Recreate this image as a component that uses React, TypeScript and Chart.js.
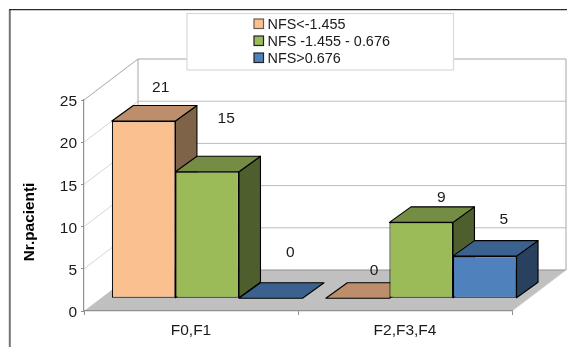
import React, { useEffect, useRef } from "react";
import { Chart, registerables } from "chart.js";

Chart.register(...registerables);

const categories = ["F0,F1", "F2,F3,F4"];
const seriesNames = ["NFS<-1.455", "NFS -1.455 - 0.676", "NFS>0.676"];
const lowValues = [21, 0];
const midValues = [15, 9];
const highValues = [0, 5];
const axisTitle = "Nr.pacienți";

// front, top and side shades of each prism
const frontColors = ["#FAC090", "#9BBB59", "#4F81BD"];
const topColors = ["#BC8E6B", "#748C43", "#3B618E"];
const sideColors = ["#7F6348", "#4E5E2D", "#28415F"];

const FONT = '"Liberation Sans", Arial, sans-serif';
const TEXT = "#1a1a1a";

// depth of the whole box, and of the bars standing inside it
const WALL_DX = 54;
const WALL_DY = -41;
const BAR_SHIFT_X = 16.2;
const BAR_SHIFT_Y = -12.7;
const BAR_DX = 21.5;
const BAR_DY = -15.5;

// hand-placed lift of each value label above its bar, per series and category
const labelLift = [
  [33, 28],
  [53, 25],
  [46, 36],
];
const labelNudge = [
  [17, 16.5],
  [19, 20],
  [19.5, 19],
];

function polygon(ctx: CanvasRenderingContext2D, pts: number[][], fill?: string, stroke?: string, lw = 1.1) {
  ctx.beginPath();
  pts.forEach(([x, y], i) => (i ? ctx.lineTo(x, y) : ctx.moveTo(x, y)));
  ctx.closePath();
  if (fill) {
    ctx.fillStyle = fill;
    ctx.fill();
  }
  if (stroke) {
    ctx.strokeStyle = stroke;
    ctx.lineWidth = lw;
    ctx.lineJoin = "round";
    ctx.stroke();
  }
}

function line(ctx: CanvasRenderingContext2D, pts: number[][], color: string, lw = 1) {
  ctx.beginPath();
  pts.forEach(([x, y], i) => (i ? ctx.lineTo(x, y) : ctx.moveTo(x, y)));
  ctx.strokeStyle = color;
  ctx.lineWidth = lw;
  ctx.stroke();
}

const box3d = {
  id: "box3d",
  // outer frame, floor, walls and gridlines
  beforeDraw(chart: any) {
    const { ctx, chartArea: a, scales } = chart;
    const yScale = scales.y;
    ctx.save();
    line(ctx, [[9.8, 10], [9.8, 347]], "#747474", 2);
    line(ctx, [[9, 9.6], [567, 9.6]], "#2a2a2a", 1.3);

    const b = a.bottom;
    polygon(ctx, [
      [a.left, b],
      [a.right, b],
      [a.right + WALL_DX, b + WALL_DY],
      [a.left + WALL_DX, b + WALL_DY],
    ], "#C0C0C0");

    yScale.ticks.forEach((t: any) => {
      const y = yScale.getPixelForValue(t.value);
      if (t.value === 0) return;
      const isTop = y === a.top;
      line(ctx, [[a.left, y], [a.left + WALL_DX, y + WALL_DY]], isTop ? "#A6A6A6" : "#D6D6D6");
      line(ctx, [[a.left + WALL_DX, y + WALL_DY], [a.right + WALL_DX, y + WALL_DY]], isTop ? "#A6A6A6" : "#BDBDBD");
    });
    line(ctx, [[a.left + WALL_DX, a.top + WALL_DY], [a.left + WALL_DX, b + WALL_DY]], "#A6A6A6");
    line(ctx, [[a.right + WALL_DX, a.top + WALL_DY], [a.right + WALL_DX, b + WALL_DY]], "#A6A6A6");
    line(ctx, [[a.left + WALL_DX, b + WALL_DY], [a.right + WALL_DX, b + WALL_DY]], "#909090");
    line(ctx, [[a.right, b], [a.right + WALL_DX, b + WALL_DY]], "#D0D0D0");
    ctx.restore();
  },
  // bars go left to right so each one overlaps the side of its neighbour
  beforeDatasetsDraw(chart: any) {
    const { ctx, data } = chart;
    ctx.save();
    data.labels.forEach((_: string, c: number) => {
      data.datasets.forEach((_d: any, s: number) => {
        const bar = chart.getDatasetMeta(s).data[c];
        const hw = bar.width / 2;
        const l = bar.x - hw + BAR_SHIFT_X;
        const r = bar.x + hw + BAR_SHIFT_X;
        const t = bar.y + BAR_SHIFT_Y;
        const bt = bar.base + BAR_SHIFT_Y;
        if (bt - t > 0) {
          polygon(ctx, [[r, t], [r + BAR_DX, t + BAR_DY], [r + BAR_DX, bt + BAR_DY], [r, bt]], sideColors[s], "#000");
        }
        polygon(ctx, [[l, t], [r, t], [r + BAR_DX, t + BAR_DY], [l + BAR_DX, t + BAR_DY]], topColors[s], "#000");
        ctx.save();
        ctx.translate(BAR_SHIFT_X, BAR_SHIFT_Y);
        bar.draw(ctx);
        ctx.restore();
      });
    });
    ctx.restore();
  },
  // the library's own pass would paint the bars again, unshifted
  beforeDatasetDraw() {
    return false;
  },
  afterDatasetsDraw(chart: any) {
    const { ctx, data } = chart;
    ctx.save();
    ctx.textAlign = "center";
    ctx.textBaseline = "middle";
    ctx.fillStyle = TEXT;
    ctx.font = `15.5px ${FONT}`;
    data.datasets.forEach((d: any, s: number) => {
      d.data.forEach((v: number, c: number) => {
        const bar = chart.getDatasetMeta(s).data[c];
        ctx.fillText(String(v), bar.x + BAR_SHIFT_X + labelNudge[s][c], bar.y + BAR_SHIFT_Y - labelLift[s][c]);
      });
    });

    // axis title sits below the middle of the value axis
    ctx.save();
    ctx.translate(29.5, 222);
    ctx.rotate(-Math.PI / 2);
    ctx.font = `bold 15.4px ${FONT}`;
    ctx.fillStyle = "#000";
    ctx.fillText(axisTitle, 0, 0);
    ctx.restore();

    // legend panel
    ctx.fillStyle = "#fff";
    ctx.fillRect(187, 13.5, 266.5, 56.5);
    ctx.strokeStyle = "#D9D9D9";
    ctx.lineWidth = 1.2;
    ctx.strokeRect(187, 13.5, 266.5, 56.5);
    ctx.textAlign = "left";
    ctx.font = `14.4px ${FONT}`;
    seriesNames.forEach((name, i) => {
      const y = 24 + i * 17;
      ctx.fillStyle = frontColors[i];
      ctx.fillRect(254, y - 5, 9.5, 9.5);
      ctx.strokeStyle = i === 0 ? "#6b5a4d" : "#222";
      ctx.lineWidth = 1.2;
      ctx.strokeRect(254, y - 5, 9.5, 9.5);
      ctx.fillStyle = TEXT;
      ctx.fillText(name, 267.5, y + 1);
    });
    ctx.restore();
  },
};

export default function App() {
  const ref = useRef<HTMLCanvasElement | null>(null);

  useEffect(() => {
    const values = [lowValues, midValues, highValues];
    const chart = new Chart(ref.current as HTMLCanvasElement, {
      type: "bar",
      data: {
        labels: categories,
        datasets: seriesNames.map((label, i) => ({
          label,
          data: values[i],
          backgroundColor: frontColors[i],
          borderColor: "#000",
          borderWidth: 1.1,
          borderSkipped: false,
          categoryPercentage: 0.891,
          barPercentage: 1,
        })),
      },
      options: {
        responsive: false,
        animation: false,
        layout: {
          autoPadding: false,
          padding: { left: 24, right: 55, top: 100, bottom: 6 },
        },
        plugins: {
          legend: { display: false },
          title: { display: false },
          tooltip: { enabled: false },
        },
        scales: {
          x: {
            afterFit(s: any) {
              s.height = 30;
            },
            grid: { drawOnChartArea: false, tickLength: 4, color: "#909090" },
            border: { color: "#909090", width: 1.2 },
            ticks: { color: TEXT, font: { family: FONT, size: 15.5 }, padding: 6, maxRotation: 0 },
          },
          y: {
            min: 0,
            max: 25,
            afterFit(s: any) {
              s.width = 60;
            },
            grid: { drawOnChartArea: false, tickLength: 3, color: "#909090" },
            border: { color: "#909090", width: 1.2 },
            ticks: { stepSize: 5, color: TEXT, font: { family: FONT, size: 15.5 }, padding: 4, labelOffset: 2 },
          },
        },
      },
      plugins: [box3d],
    } as any);
    return () => chart.destroy();
  }, []);

  return (
    <div style={{ position: "fixed", left: 0, top: 0, width: 567, height: 347, background: "#fff" }}>
      <canvas ref={ref} width={567} height={347} style={{ display: "block" }} />
    </div>
  );
}
